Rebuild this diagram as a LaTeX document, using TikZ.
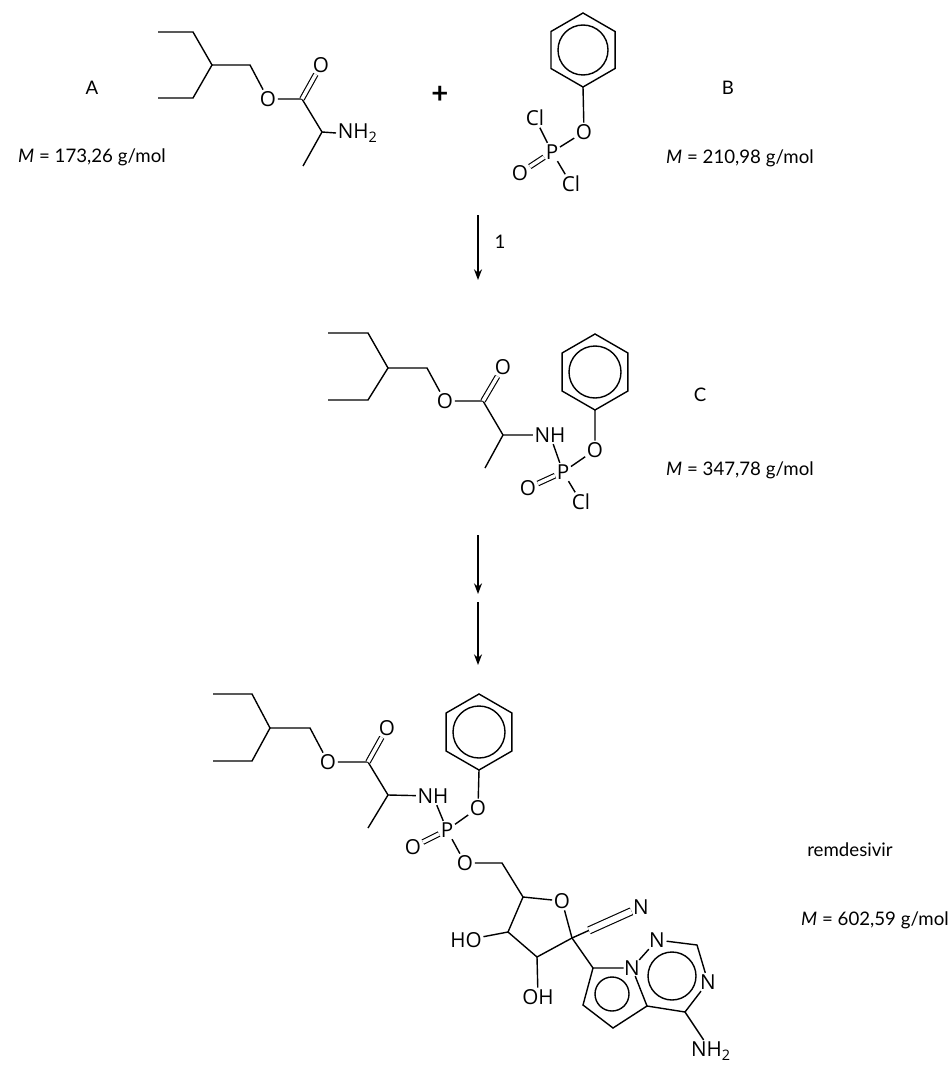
\documentclass[tikz,border=0pt]{standalone}
\usepackage{fontspec}
\setmainfont{Lato}
\newfontfamily\atf{Open Sans}
\usetikzlibrary{arrows.meta}
\begin{document}
\begin{tikzpicture}[x=0.75pt,y=-0.75pt,line width=1.05pt,
 atm/.style={inner sep=0.8pt, font=\atf\fontsize{15.5}{15.5}\selectfont},
 lbl/.style={font=\fontsize{14}{16}\selectfont},
 dbl/.style={double distance=2.6pt, line width=0.85pt},
 arr/.style={-{Stealth[length=8pt,width=6pt]}, line width=1pt},
 ring/.style={line width=1.05pt}]
\useasboundingbox (0,0) rectangle (950,1077);
% ---------------- A ----------------
\coordinate (a1) at (158,32); \coordinate (a2) at (193,32); \coordinate (a3) at (212,65);
\coordinate (a4) at (193,98); \coordinate (a5) at (158,98); \coordinate (a6) at (250,65);
\node[atm] (aO) at (268,99) {O}; \coordinate (a7) at (302,99); \node[atm] (aO2) at (321,65) {O};
\coordinate (a8) at (322,132); \node[atm,anchor=west] (aN) at (336,133) {NH\textsubscript{2}};
\coordinate (a9) at (303,166);
\draw (a1)--(a2)--(a3)--(a4)--(a5);
\draw (a3)--(a6)--(aO)--(a7)--(a8)--(aN.west); \draw (a8)--(a9);
\draw[dbl] (a7)--(aO2);
\node[lbl] (tA) at (92,88) {A};
\node[lbl] (mA) at (92,157) {\textit{M} = 173,26 g/mol};
\node[font=\bfseries\fontsize{22}{22}\selectfont] (plus) at (440,95) {+};
% ---------------- B ----------------
\draw[ring] (583,50) +(90:37) -- +(150:37) -- +(210:37) -- +(270:37) -- +(330:37) -- +(30:37) -- cycle;
\draw[ring] (583,50) circle[radius=25];
\coordinate (bb) at (583,87);
\node[atm] (bO) at (584,132) {O}; \node[atm] (bP) at (552,152) {P};
\node[atm] (bCl1) at (535,118) {Cl}; \node[atm] (bO2) at (520,173) {O}; \node[atm] (bCl2) at (571,184) {Cl};
\draw (bb)--(bO)--(bP); \draw (bP)--(bCl1); \draw (bP)--(bCl2); \draw[dbl] (bP)--(bO2);
\node[lbl] (tB) at (728,88) {B};
\node[lbl] (mB) at (740,158) {\textit{M} = 210,98 g/mol};
% arrow 1
\coordinate (r1s) at (478,215); \coordinate (r1e) at (478,280);
\draw[arr] (r1s)--(r1e); \node[lbl] (r1l) at (500,242) {1};
% ---------------- C ----------------
\coordinate (c1) at (328,333); \coordinate (c2) at (368,333); \coordinate (c3) at (388,368);
\coordinate (c4) at (368,400); \coordinate (c5) at (328,400); \coordinate (c6) at (427,368);
\node[atm] (cO) at (445,401) {O}; \coordinate (c7) at (483,401); \node[atm] (cO2) at (503,367) {O};
\coordinate (c8) at (503,435); \coordinate (c9) at (485,468);
\node[atm] (cN) at (550,435) {NH}; \node[atm] (cP) at (563,472) {P};
\node[atm] (cOp) at (595,450) {O}; \node[atm] (cO3) at (528,488) {O}; \node[atm] (cCl) at (581,502) {Cl};
\draw[ring] (595,372) +(90:38) -- +(150:38) -- +(210:38) -- +(270:38) -- +(330:38) -- +(30:38) -- cycle;
\draw[ring] (595,372) circle[radius=26];
\coordinate (cb) at (595,410);
\draw (c1)--(c2)--(c3)--(c4)--(c5); \draw (c3)--(c6)--(cO)--(c7)--(c8)--(cN)--(cP)--(cOp)--(cb);
\draw (c8)--(c9); \draw (cP)--(cCl); \draw[dbl] (c7)--(cO2); \draw[dbl] (cP)--(cO3);
\node[lbl] (tC) at (700,395) {C};
\node[lbl] (mC) at (740,470) {\textit{M} = 347,78 g/mol};
% arrows 2,3
\coordinate (r2s) at (478,535); \coordinate (r2e) at (478,594);
\coordinate (r3s) at (478,602); \coordinate (r3e) at (478,665);
\draw[arr] (r2s)--(r2e); \draw[arr] (r3s)--(r3e);
% ---------------- remdesivir ----------------
\coordinate (d1) at (213,694); \coordinate (d2) at (252,694); \coordinate (d3) at (270,728);
\coordinate (d4) at (252,761); \coordinate (d5) at (213,761); \coordinate (d6) at (310,728);
\node[atm] (dO) at (328,762) {O}; \coordinate (d7) at (368,762); \node[atm] (dO2) at (387,728) {O};
\coordinate (d8) at (388,795); \coordinate (d9) at (368,828);
\node[atm] (dN) at (433,796) {NH}; \node[atm] (dP) at (447,830) {P};
\node[atm] (dOp) at (478,808) {O}; \node[atm] (dO3) at (413,847) {O}; \node[atm] (dO4) at (465,863) {O};
\draw[ring] (479,732) +(90:38) -- +(150:38) -- +(210:38) -- +(270:38) -- +(330:38) -- +(30:38) -- cycle;
\draw[ring] (479,732) circle[radius=26];
\coordinate (db) at (479,770);
\draw (d1)--(d2)--(d3)--(d4)--(d5); \draw (d3)--(d6)--(dO)--(d7)--(d8)--(dN)--(dP)--(dOp)--(db);
\draw (d8)--(d9); \draw[dbl] (d7)--(dO2); \draw[dbl] (dP)--(dO3);
% sugar
\coordinate (s5) at (502,863); \coordinate (s4) at (523,897); \node[atm] (sO) at (562,901) {O};
\coordinate (s1) at (572,938); \coordinate (s2) at (537,957); \coordinate (s3) at (508,932);
\node[atm] (sHO) at (466,940) {HO}; \node[atm] (sOH) at (538,997) {OH};
\node[atm] (sN) at (641,907) {N};
\draw (dP)--(dO4)--(s5)--(s4)--(sO)--(s1)--(s2)--(s3)--(s4);
\draw (s3)--(sHO); \draw (s2)--(sOH);
\draw (s1)--(sN);
\draw[dbl,double distance=4.5pt,shorten <=14pt] (s1)--(sN);
% base
\coordinate (p7) at (593,968); \node[atm,inner sep=0pt] (pN1) at (632,968) {N};
\coordinate (p8) at (647,1006); \coordinate (p9) at (613,1028); \coordinate (p10) at (583,1005);
\node[atm] (pN2) at (657,940) {N}; \coordinate (p11) at (697,945);
\node[atm] (pN3) at (708,982) {N}; \coordinate (p12) at (685,1012);
\node[atm] (pNH) at (711,1051) {NH\textsubscript{2}};
\draw (s1)--(p7)--(pN1)--(p8)--(p9)--(p10)--(p7);
\draw (pN1)--(pN2)--(p11)--(pN3)--(p12)--(p8);
\draw (p12)--(pNH);
\draw[ring] (612,994) circle[radius=17];
\draw[ring] (672,976) circle[radius=24];
\node[lbl] (tD) at (850,850) {remdesivir};
\node[lbl] (mD) at (875,920) {\textit{M} = 602,59 g/mol};
\end{tikzpicture}
\end{document}
